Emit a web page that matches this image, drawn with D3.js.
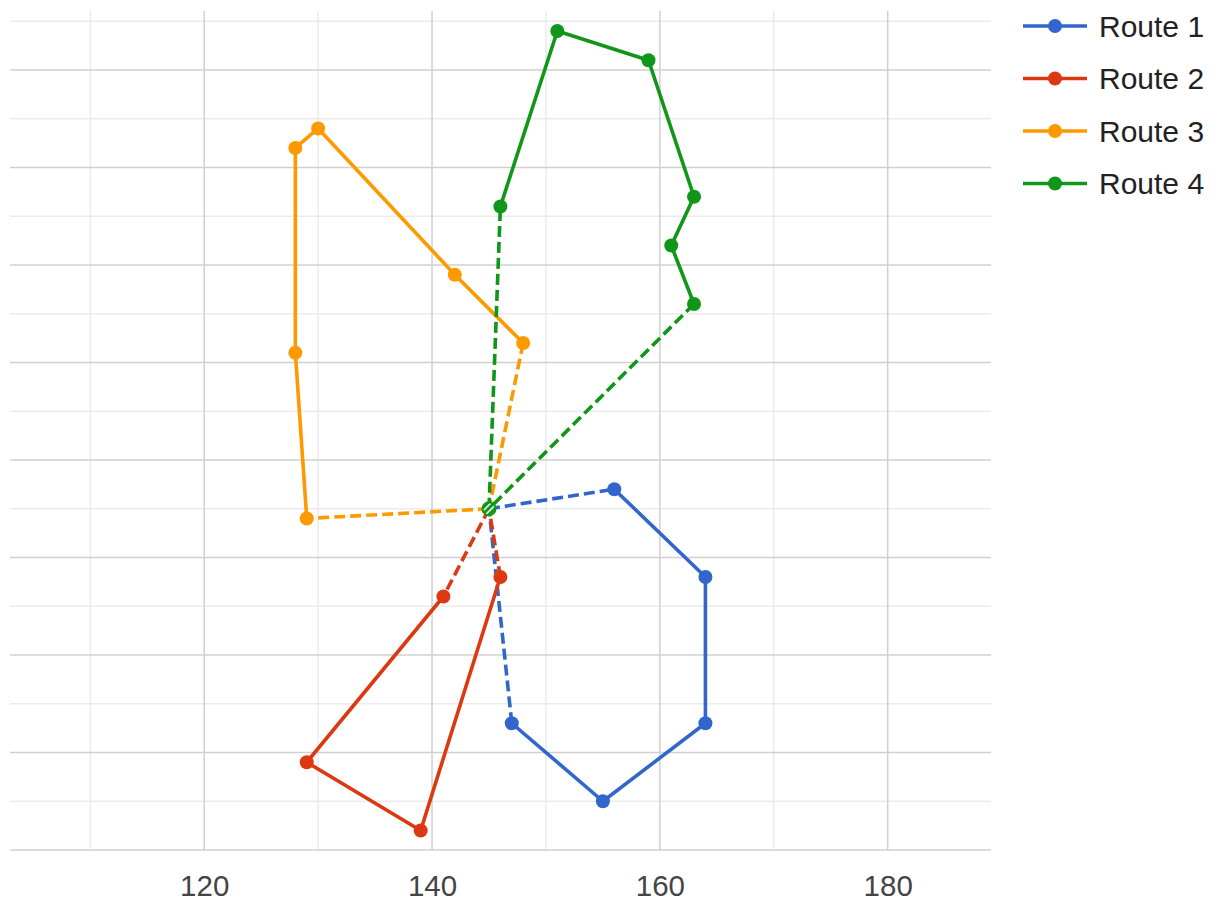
<!DOCTYPE html>
<html><head><meta charset="utf-8">
<script src="https://cdn.jsdelivr.net/npm/d3@7"></script>
<style>body{margin:0;background:#fff;} text{font-family:"Liberation Sans",Arial,sans-serif;}</style>
</head><body><svg id="chart" width="1220" height="901"></svg>
<script>
// ---- data ----
const seriesNames = ["Route 1", "Route 2", "Route 3", "Route 4"];
const seriesColors = ["#3366cc", "#dc3912", "#ff9900", "#109618"];
const depotX = 145;
const depotY = 35;
const route1X = [156, 164, 164, 155, 147];
const route1Y = [37, 28, 13, 5, 13];
const route2X = [141, 129, 139, 146];
const route2Y = [26, 9, 2, 28];
const route3X = [129, 128, 128, 130, 142, 148];
const route3Y = [34, 51, 72, 74, 59, 52];
const route4X = [146, 151, 159, 163, 161, 163];
const route4Y = [66, 84, 81, 67, 62, 56];
const xTickLabels = [120, 140, 160, 180];
const xMinorTicks = [110, 130, 150, 170];
const yMajorTicks = [0, 10, 20, 30, 40, 50, 60, 70, 80];
const yMinorTicks = [5, 15, 25, 35, 45, 55, 65, 75, 85];

const routesX = [route1X, route2X, route3X, route4X];
const routesY = [route1Y, route2Y, route3Y, route4Y];

// ---- layout ----
const svg = d3.select("#chart");
const padL = 10, padR = 991, padT = 11, padB = 850;
const x = d3.scaleLinear().domain([102.95, 189.07]).range([padL, padR]);
const y = d3.scaleLinear().domain([0, 86.05]).range([padB, padT]);
const LW = 3.6, PR = 7;

const grid = svg.append("g");
grid.selectAll(".vmin").data(xMinorTicks).join("line")
  .attr("x1", d => x(d)).attr("x2", d => x(d)).attr("y1", padT).attr("y2", padB)
  .attr("stroke", "#ebebeb").attr("stroke-width", 1.5);
grid.selectAll(".hmin").data(yMinorTicks).join("line")
  .attr("x1", padL).attr("x2", padR).attr("y1", d => y(d)).attr("y2", d => y(d))
  .attr("stroke", "#ebebeb").attr("stroke-width", 1.5);
grid.selectAll(".vmaj").data(xTickLabels).join("line")
  .attr("x1", d => x(d)).attr("x2", d => x(d)).attr("y1", padT).attr("y2", padB)
  .attr("stroke", "#d0d0d0").attr("stroke-width", 1.5);
grid.selectAll(".hmaj").data(yMajorTicks).join("line")
  .attr("x1", padL).attr("x2", padR).attr("y1", d => y(d)).attr("y2", d => y(d))
  .attr("stroke", "#d0d0d0").attr("stroke-width", 1.5);

// x axis labels
const xAxis = d3.axisBottom(x).tickValues(xTickLabels).tickSize(0).tickPadding(0).tickFormat(d3.format("d"));
const ax = svg.append("g").attr("transform", `translate(0,${padB})`).call(xAxis);
ax.select(".domain").remove();
ax.selectAll("text").attr("y", 46).attr("dy", null).attr("font-size", 29.5).attr("fill", "#444")
  .attr("font-family", "'Liberation Sans', Arial, sans-serif");

// routes
const line = d3.line().x(d => x(d[0])).y(d => y(d[1]));
const plot = svg.append("g");
routesX.forEach((xs, i) => {
  const pts = xs.map((v, j) => [v, routesY[i][j]]);
  const color = seriesColors[i];
  const g = plot.append("g");
  g.append("path").attr("d", line([[depotX, depotY], pts[0]]))
    .attr("fill", "none").attr("stroke", color).attr("stroke-width", LW).attr("stroke-dasharray", "11,5");
  g.append("path").attr("d", line([pts[pts.length - 1], [depotX, depotY]]))
    .attr("fill", "none").attr("stroke", color).attr("stroke-width", LW).attr("stroke-dasharray", "11,5");
  g.append("path").attr("d", line(pts))
    .attr("fill", "none").attr("stroke", color).attr("stroke-width", LW).attr("stroke-linejoin", "round");
  g.selectAll("circle").data(pts).join("circle")
    .attr("cx", d => x(d[0])).attr("cy", d => y(d[1])).attr("r", PR).attr("fill", color);
});

// depot marker
const defs = svg.append("defs");
const pat = defs.append("pattern").attr("id", "hatch").attr("patternUnits", "userSpaceOnUse")
  .attr("width", 4.5).attr("height", 4.5).attr("patternTransform", "rotate(45)");
pat.append("rect").attr("width", 4.5).attr("height", 4.5).attr("fill", "#109618");
pat.append("rect").attr("width", 1.5).attr("height", 4.5).attr("fill", "#ffffff");
plot.append("circle").attr("cx", x(depotX)).attr("cy", y(depotY)).attr("r", 6.5)
  .attr("fill", "url(#hatch)").attr("stroke", "#109618").attr("stroke-width", 2);

// legend
const lg = svg.append("g");
const rowY = [26, 78.5, 131, 183.5];
seriesNames.forEach((name, i) => {
  const r = lg.append("g").attr("transform", `translate(0,${rowY[i]})`);
  r.append("line").attr("x1", 1023).attr("x2", 1087).attr("y1", 0).attr("y2", 0)
    .attr("stroke", seriesColors[i]).attr("stroke-width", LW);
  r.append("circle").attr("cx", 1055).attr("cy", 0).attr("r", PR).attr("fill", seriesColors[i]);
  r.append("text").attr("x", 1099).attr("y", 10.5).attr("font-size", 30).attr("fill", "#222").text(name);
});
</script></body></html>
